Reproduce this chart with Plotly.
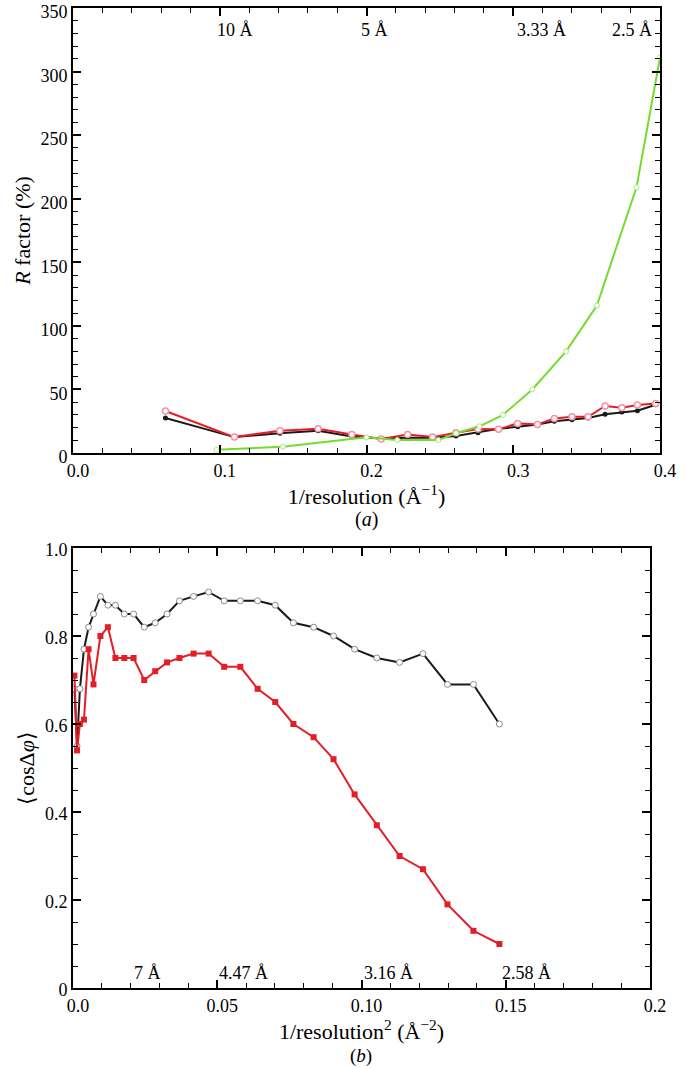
import plotly.graph_objects as go

# ---- Panel (a): R factor vs 1/resolution ----
x_a = [0.063, 0.110, 0.141, 0.167, 0.190, 0.210, 0.228, 0.245, 0.261, 0.276, 0.290,
       0.303, 0.3165, 0.328, 0.340, 0.351, 0.3626, 0.374, 0.3846, 0.397]
r_red = [33, 12.5, 17.5, 19, 14.5, 11, 14.5, 12.5, 16, 18.8, 18.6,
         23.3, 22.5, 27.2, 28.5, 28.5, 37, 35.6, 37.7, 39]
r_black = [27.5, 12.5, 15.5, 17.5, 13, 11.5, 12, 12, 13.3, 16, 19,
           20.6, 22.5, 25, 26.2, 27.5, 30.5, 32.2, 33.2, 38]
x_green = [0.098, 0.143, 0.200, 0.221, 0.249, 0.261, 0.277, 0.293, 0.313, 0.336, 0.357, 0.384, 0.400]
r_green = [2.5, 5, 12.3, 10.2, 10.2, 15.5, 21, 30, 50, 80, 116, 209, 311]
res_a_labels = ["10 Å", "5 Å", "3.33 Å", "2.5 Å"]
res_a_pos = [0.097, 0.195, 0.301, 0.396]

# ---- Panel (b): <cos dphi> vs 1/resolution^2 ----
x_b = [0.0005, 0.0014, 0.0024, 0.0038, 0.0054, 0.0071, 0.0095, 0.0121, 0.0147, 0.0178,
       0.021, 0.0247, 0.0285, 0.0326, 0.0369, 0.0418, 0.047, 0.0524, 0.058, 0.064,
       0.0701, 0.0764, 0.0834, 0.0903, 0.0976, 0.1053, 0.1132, 0.1213, 0.1298, 0.1388, 0.1478]
c_black = [0.68, 0.55, 0.68, 0.77, 0.82, 0.85, 0.89, 0.87, 0.87, 0.85,
           0.85, 0.82, 0.83, 0.85, 0.88, 0.89, 0.90, 0.88, 0.88, 0.88,
           0.87, 0.83, 0.82, 0.80, 0.77, 0.75, 0.74, 0.76, 0.69, 0.69, 0.60]
c_red = [0.71, 0.54, 0.60, 0.61, 0.77, 0.69, 0.80, 0.82, 0.75, 0.75,
         0.75, 0.70, 0.72, 0.74, 0.75, 0.76, 0.76, 0.73, 0.73, 0.68,
         0.65, 0.60, 0.57, 0.52, 0.44, 0.37, 0.30, 0.27, 0.19, 0.13, 0.10]
res_b_labels = ["7 Å", "4.47 Å", "3.16 Å", "2.58 Å"]
res_b_pos = [0.0204, 0.050, 0.100, 0.148]

xticks_b = [0, 0.05, 0.10, 0.15, 0.2]
xticktext_b = ["0.0", "0.05", "0.10", "0.15", "0.2"]
yticks_b = [0, 0.2, 0.4, 0.6, 0.8, 1.0]
yticktext_b = ["0", "0.2", "0.4", "0.6", "0.8", "1.0"]

FONT = "Liberation Serif"
RED = "#e41e26"
BLACK = "#1a1a1a"
GREEN = "#74dc2c"

fig = go.Figure()

fig.add_trace(go.Scatter(x=x_a, y=r_black, mode="lines+markers", xaxis="x", yaxis="y",
                         line=dict(color=BLACK, width=2),
                         marker=dict(color=BLACK, size=5, symbol="circle"), showlegend=False))
fig.add_trace(go.Scatter(x=x_a, y=r_red, mode="lines+markers", xaxis="x", yaxis="y",
                         line=dict(color=RED, width=2),
                         marker=dict(color="white", size=6, symbol="circle",
                                     line=dict(color="#f291a8", width=1.5)), showlegend=False))
fig.add_trace(go.Scatter(x=x_green, y=r_green, mode="lines+markers", xaxis="x", yaxis="y",
                         line=dict(color=GREEN, width=2),
                         marker=dict(color="white", size=5, symbol="circle",
                                     line=dict(color="#a8e888", width=1)), showlegend=False))

fig.add_trace(go.Scatter(x=x_b, y=c_black, mode="lines+markers", xaxis="x2", yaxis="y2",
                         line=dict(color=BLACK, width=2),
                         marker=dict(color="white", size=6, symbol="circle",
                                     line=dict(color="#8a8a8a", width=1)), showlegend=False))
fig.add_trace(go.Scatter(x=x_b, y=c_red, mode="lines+markers", xaxis="x2", yaxis="y2",
                         line=dict(color=RED, width=2),
                         marker=dict(color=RED, size=6, symbol="square"), showlegend=False))

W, H = 692, 1068
axis_common = dict(showline=True, linecolor="black", linewidth=2, mirror="ticks",
                   ticks="inside", ticklen=8, tickwidth=1.5, tickcolor="black",
                   showgrid=False, zeroline=False, automargin=False,
                   ticklabeloverflow="allow",
                   tickfont=dict(family=FONT, size=18, color="black"))

fig.update_layout(
    width=W, height=H, margin=dict(l=0, r=0, t=0, b=0, autoexpand=False),
    paper_bgcolor="white", plot_bgcolor="white",
    font=dict(family=FONT, color="black"),
    xaxis=dict(domain=[73 / W, 660 / W], anchor="y", range=[0, 0.4], dtick=0.1,
               tickformat=".1f", ticklabelshift=5,
               minor=dict(dtick=0.02, ticks="inside", ticklen=5, tickwidth=1.2, tickcolor="black"),
               title=dict(text="1/resolution (Å<sup>−1</sup>)", standoff=4,
                          font=dict(family=FONT, size=22)),
               **axis_common),
    yaxis=dict(domain=[1 - 453 / H, 1 - 8 / H], anchor="x", range=[0, 350], dtick=50,
               ticklabelshift=4,
               minor=dict(dtick=10, ticks="inside", ticklen=5, tickwidth=1.2, tickcolor="black"),
               title=dict(text="<i>R</i> factor (%)", standoff=4,
                          font=dict(family=FONT, size=22)),
               **axis_common),
    xaxis2=dict(domain=[73 / W, 650 / W], anchor="y2", range=[0, 0.2],
                tickvals=xticks_b, ticktext=xticktext_b, ticklabelshift=5,
                minor=dict(dtick=0.01, ticks="inside", ticklen=5, tickwidth=1.2, tickcolor="black"),
                title=dict(text="1/resolution<sup>2</sup> (Å<sup>−2</sup>)", standoff=4,
                           font=dict(family=FONT, size=22)),
                **axis_common),
    yaxis2=dict(domain=[1 - 988 / H, 1 - 548 / H], anchor="x2", range=[0, 1],
                tickvals=yticks_b, ticktext=yticktext_b, ticklabelshift=2,
                minor=dict(dtick=0.05, ticks="inside", ticklen=5, tickwidth=1.2, tickcolor="black"),
                title=dict(text="⟨cosΔ<i>φ</i>⟩", standoff=4,
                           font=dict(family=FONT, size=22)),
                **axis_common),
)

ann = []
for lbl, p in zip(res_a_labels, res_a_pos):
    ann.append(dict(x=p, y=333, xref="x", yref="y", text=lbl, showarrow=False,
                    xanchor="right" if lbl == "2.5 Å" else "left", yanchor="middle",
                    font=dict(family=FONT, size=18, color="black")))
for lbl, p in zip(res_b_labels, res_b_pos):
    ann.append(dict(x=p, y=0.034, xref="x2", yref="y2", text=lbl, showarrow=False,
                    xanchor="left", yanchor="middle",
                    font=dict(family=FONT, size=18, color="black")))
ann.append(dict(x=366 / W, y=1 - 519 / H, xref="paper", yref="paper", text="(<i>a</i>)",
                showarrow=False, xanchor="center", yanchor="middle",
                font=dict(family=FONT, size=20, color="black")))
ann.append(dict(x=361 / W, y=1 - 1056 / H, xref="paper", yref="paper", text="(<i>b</i>)",
                showarrow=False, xanchor="center", yanchor="middle",
                font=dict(family=FONT, size=19, color="black")))
fig.update_layout(annotations=ann)

# remove the browser's default 8px page margin so the figure sits at the window origin
fig.write_html("out.html", config={"displayModeBar": False},
               post_script="document.body.style.margin='0px';document.body.style.overflow='hidden';")
